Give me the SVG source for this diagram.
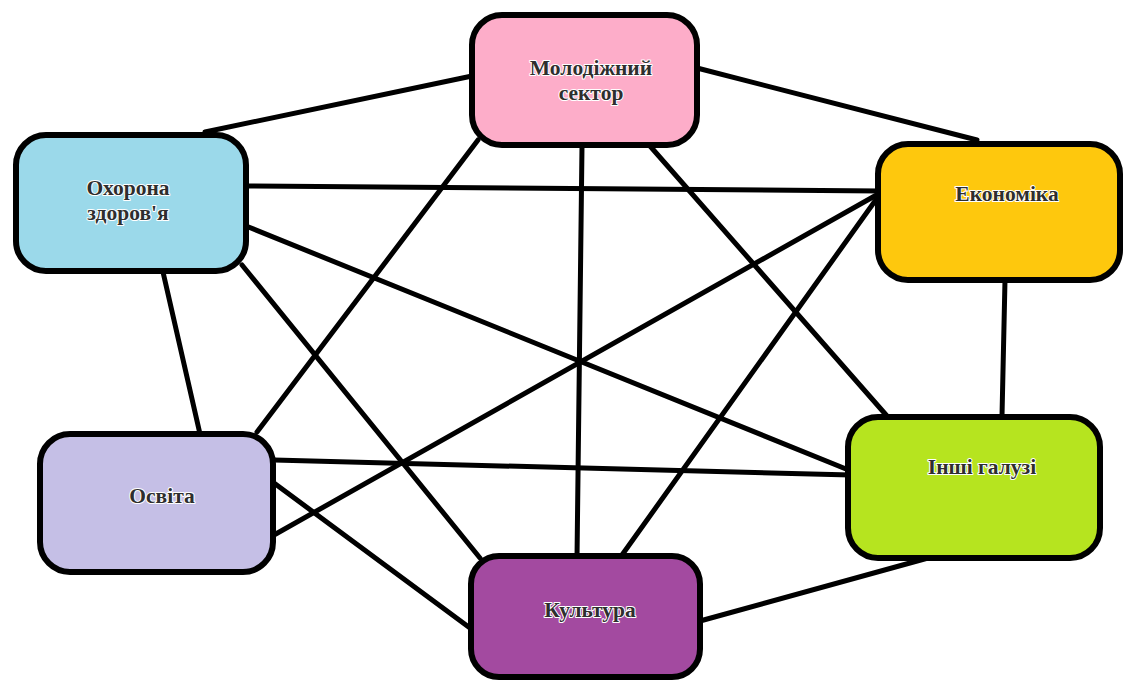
<svg xmlns="http://www.w3.org/2000/svg" width="1133" height="681" viewBox="0 0 1133 681">
<style>
.box{stroke:#000;stroke-width:6}
.lbl{font-family:"Liberation Serif","Times New Roman",serif;font-weight:bold;font-size:21.5px;fill:#2e2e2e;stroke:#fff;stroke-width:2;paint-order:stroke;stroke-linejoin:round;text-anchor:middle}
#connectors line{stroke:#000;stroke-width:5;stroke-linecap:round}
</style>
<rect width="1133" height="681" fill="#fff"/>
<g id="connectors">
<line x1="472" y1="76" x2="205" y2="132"/>
<line x1="697" y1="68" x2="977" y2="140"/>
<line x1="244" y1="186" x2="880" y2="191"/>
<line x1="246" y1="226" x2="851" y2="471"/>
<line x1="242" y1="265" x2="480" y2="558"/>
<line x1="163" y1="272" x2="200" y2="434"/>
<line x1="478" y1="140" x2="257" y2="432"/>
<line x1="582" y1="146" x2="577" y2="558"/>
<line x1="650" y1="146" x2="887" y2="416"/>
<line x1="880" y1="193" x2="274" y2="535"/>
<line x1="880" y1="194" x2="622" y2="555"/>
<line x1="1005" y1="280" x2="1002" y2="416"/>
<line x1="274" y1="460" x2="851" y2="475"/>
<line x1="274" y1="483" x2="470" y2="628"/>
<line x1="928" y1="558" x2="700" y2="621"/>
</g>
<g id="n-molod">
<rect class="box" x="472" y="15" width="225" height="130" rx="30" fill="#fdadc9"/>
<text class="lbl" x="591" y="75">Молодіжний</text>
<text class="lbl" x="591" y="100">сектор</text>
</g>
<g id="n-ohorona">
<rect class="box" x="16" y="135" width="230" height="136" rx="30" fill="#9bd9ea"/>
<text class="lbl" x="128" y="195">Охорона</text>
<text class="lbl" x="128" y="220">здоров'я</text>
</g>
<g id="n-econ">
<rect class="box" x="878" y="144" width="242" height="136" rx="30" fill="#fec80d"/>
<text class="lbl" x="1007" y="201">Економіка</text>
</g>
<g id="n-osvita">
<rect class="box" x="40" y="434" width="233" height="138" rx="30" fill="#c5bfe6"/>
<text class="lbl" x="162" y="503">Освіта</text>
</g>
<g id="n-kultura">
<rect class="box" x="471" y="556" width="229" height="121" rx="28" fill="#a34aa0"/>
<text class="lbl" x="590" y="617">Культура</text>
</g>
<g id="n-inshi">
<rect class="box" x="848" y="417" width="252" height="141" rx="30" fill="#b6e41f"/>
<text class="lbl" x="982" y="474">Інші галузі</text>
</g>
</svg>
